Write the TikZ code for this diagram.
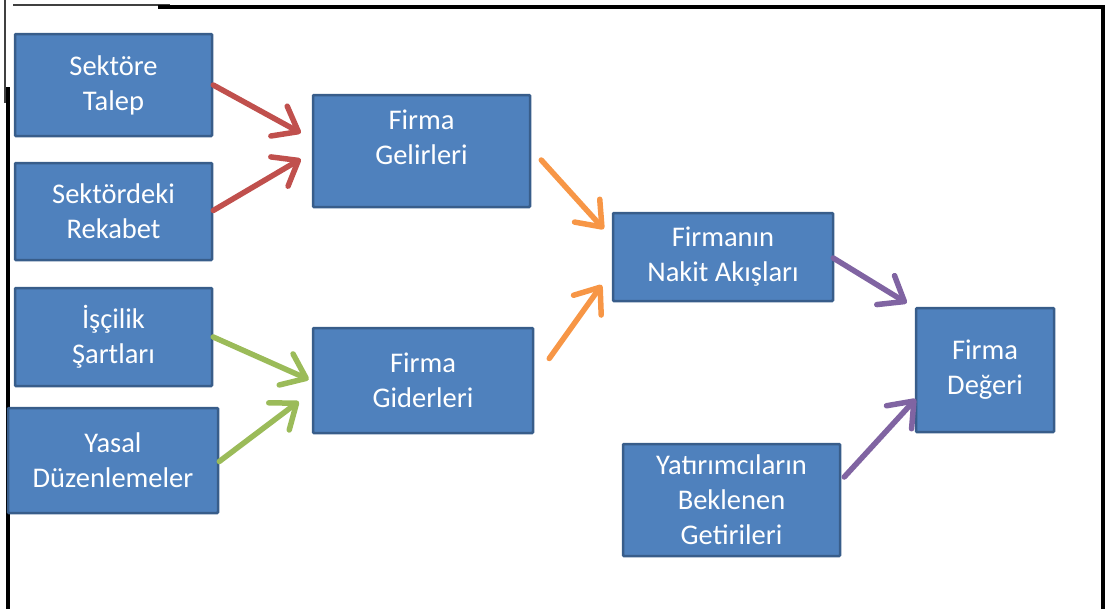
\documentclass[tikz,border=0pt]{standalone}
\usepackage{fontspec}
\setmainfont{Carlito}
\usetikzlibrary{arrows.meta,calc}
\definecolor{boxfill}{HTML}{4F81BD}
\definecolor{boxline}{HTML}{385D8A}
\definecolor{cred}{HTML}{C0504D}
\definecolor{cgreen}{HTML}{9BBB59}
\definecolor{corange}{HTML}{F79646}
\definecolor{cpurple}{HTML}{8064A2}
\tikzset{
  box/.style={draw=boxline, fill=boxfill, line width=2.5pt, rounded corners=1pt,
    text=white, align=center, inner sep=0pt,
    font=\fontsize{28.5}{35}\selectfont},
  txt/.style={text=white, align=center, inner sep=0pt, font=\fontsize{28.5}{35}\selectfont},
  flow/.style={line width=5.5pt, line cap=round,
    -{Straight Barb[length=22pt,width=34pt,round]}},
}
\begin{document}
\begin{tikzpicture}[x=1pt,y=-1pt]
\useasboundingbox (0,0) rectangle (1105,608);
% frame
\draw[line width=1.5pt, black!75] (13,5) -- (170,5);
\draw[line width=1.5pt, black!75] (5,0) -- (5,103);
\draw[line width=3.2pt] (158,7) -- (1103,7) -- (1103,610);
\draw[line width=3.2pt] (8,87) -- (8,610);
% boxes
\node[box, minimum width=197pt, minimum height=102pt] (st) at (113.5,85) {Sektöre\\Talep};
\node[box, minimum width=197pt, minimum height=97pt] (sr) at (113.5,211.5) {Sektördeki\\Rekabet};
\node[box, minimum width=217pt, minimum height=112pt] (gel) at (421.5,151) {};
\node[txt] (geltxt) at (421.5,137) {Firma\\Gelirleri};
\node[box, minimum width=197pt, minimum height=98pt] (isc) at (113.5,337) {İşçilik\\Şartları};
\node[box, minimum width=210pt, minimum height=105pt] (yas) at (113,460.5) {Yasal\\Düzenlemeler};
\node[box, minimum width=220pt, minimum height=105pt] (gid) at (423,380.5) {Firma\\Giderleri};
\node[box, minimum width=220pt, minimum height=88pt] (nak) at (723,257) {Firmanın\\Nakit Akışları};
\node[box, minimum width=138pt, minimum height=124pt] (deg) at (985,370) {Firma\\Değeri};
\node[box, minimum width=217pt, minimum height=112pt] (yat) at (731.5,500) {Yatırımcıların\\Beklenen\\Getirileri};
% arrows
\draw[flow, cred] (st.east) -- ($(gel.west)+(-11,-18)$);
\draw[flow, cred] ($(sr.east)+(0,-1)$) -- ($(gel.west)+(-11,8)$);
\draw[flow, cgreen] (isc.east) -- ($(gid.west)+(-3,-1)$);
\draw[flow, cgreen] ($(yas.east)+(0,1)$) -- ($(gid.west)+(-13,21)$);
\draw[flow, corange] ($(gel.east)+(10,9)$) -- ($(nak.west)+(-8,-28)$);
\draw[flow, corange] ($(gid.east)+(15,-22)$) -- ($(nak.west)+(-10,28)$);
\draw[flow, cpurple] ($(nak.east)+(-1,1)$) -- ($(deg.west)+(-8,-67)$);
\draw[flow, cpurple] ($(yat.east)+(3,-23)$) -- ($(deg.west)+(1,29)$);
\end{tikzpicture}
\end{document}
